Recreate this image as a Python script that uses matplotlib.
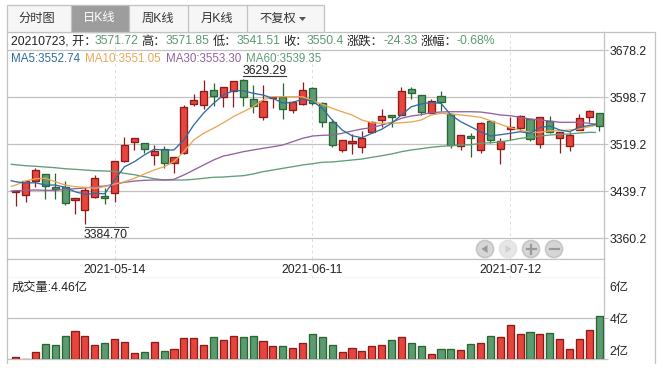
import numpy as np
import matplotlib
matplotlib.use('Agg')
import matplotlib.pyplot as plt
from matplotlib.patches import Rectangle, Circle, Polygon

plt.rcParams['font.family'] = ['Liberation Sans', 'Noto Sans CJK SC', 'DejaVu Sans']

W, H = 663, 372

opens = [3439.0, 3432.9, 3457.1, 3468.4, 3446.5, 3446.5, 3424.5, 3407.6, 3429.5, 3431.8,
         3436.3, 3490.4, 3522.6, 3520.9, 3501.6, 3510.7, 3487.0, 3504.0, 3587.9, 3586.2,
         3610.5, 3599.7, 3609.9, 3628.0, 3595.3, 3565.9, 3597.5, 3598.7, 3577.7, 3587.9,
         3613.9, 3589.1, 3556.4, 3509.0, 3520.9, 3515.1, 3540.5, 3559.8, 3568.2, 3569.3,
         3612.2, 3602.1, 3572.6, 3600.4, 3569.9, 3516.8, 3532.7, 3510.0, 3558.1, 3511.8,
         3545.6, 3547.3, 3561.5, 3519.2, 3559.1, 3530.3, 3515.8, 3543.9, 3564.9, 3571.72]
closes = [3440.2, 3456.6, 3475.2, 3448.2, 3443.1, 3419.4, 3427.9, 3441.4, 3461.7, 3428.9,
          3490.4, 3517.5, 3529.3, 3510.7, 3507.4, 3487.0, 3497.2, 3581.8, 3593.6, 3608.8,
          3601.4, 3615.6, 3625.8, 3598.7, 3584.5, 3591.9, 3599.7, 3579.4, 3591.3, 3610.5,
          3588.5, 3557.4, 3518.5, 3526.0, 3524.3, 3529.8, 3557.4, 3566.6, 3565.9, 3608.8,
          3606.5, 3574.3, 3591.9, 3590.2, 3518.5, 3534.4, 3530.3, 3554.7, 3527.0, 3524.8,
          3549.0, 3566.6, 3528.7, 3564.9, 3539.5, 3539.5, 3535.4, 3563.2, 3575.0, 3550.4]
highs = [3442.7, 3456.6, 3478.6, 3468.4, 3470.1, 3457.6, 3428.9, 3447.5, 3466.8, 3445.3,
         3490.4, 3531.0, 3529.8, 3520.9, 3517.5, 3516.3, 3497.7, 3585.7, 3604.3, 3628.0,
         3622.4, 3615.6, 3625.8, 3629.29, 3619.5, 3619.5, 3599.7, 3622.4, 3593.0, 3624.6,
         3615.6, 3591.3, 3561.5, 3526.0, 3536.6, 3541.7, 3558.6, 3578.4, 3568.8, 3615.6,
         3615.6, 3602.1, 3595.3, 3608.8, 3571.6, 3534.4, 3537.8, 3557.4, 3558.1, 3529.3,
         3564.9, 3568.2, 3561.5, 3565.9, 3566.6, 3540.5, 3539.5, 3570.4, 3577.2, 3571.85]
lows = [3415.3, 3422.1, 3446.5, 3426.2, 3426.2, 3416.0, 3400.8, 3384.7, 3427.9, 3417.7,
        3422.1, 3489.8, 3510.0, 3504.0, 3484.7, 3478.6, 3470.1, 3502.8, 3584.0, 3579.4,
        3584.0, 3582.8, 3581.8, 3584.5, 3571.6, 3560.3, 3581.1, 3562.5, 3572.6, 3585.7,
        3585.2, 3547.9, 3514.1, 3506.7, 3502.3, 3504.0, 3537.8, 3549.0, 3549.0, 3568.8,
        3595.3, 3568.8, 3572.1, 3575.0, 3513.5, 3510.0, 3496.9, 3504.0, 3520.9, 3485.4,
        3526.5, 3543.4, 3525.3, 3513.5, 3537.8, 3505.0, 3508.4, 3543.4, 3557.4, 3541.51]

# volume in 亿 as read against the right axis
volumes = [2.10, 2.01, 2.34, 2.73, 2.68, 3.12, 3.37, 3.12, 2.68, 2.78,
           2.98, 2.83, 2.29, 2.34, 2.83, 2.39, 2.49, 3.02, 3.02, 2.68,
           3.07, 2.93, 3.12, 3.07, 3.12, 2.88, 2.63, 2.63, 2.54, 2.78,
           3.22, 3.07, 2.68, 2.34, 2.54, 2.39, 2.63, 2.68, 2.93, 3.07,
           2.78, 2.63, 2.24, 2.49, 2.49, 2.44, 2.73, 2.78, 3.12, 3.07,
           3.66, 3.22, 3.32, 3.22, 3.27, 2.98, 2.49, 2.98, 3.41, 4.10]

# moving averages: first value is where the line starts, last is where it ends
ma5 = [3457.6, 3455.9, 3453.7, 3454.2, 3450.3, 3450.3, 3446.5, 3439.0, 3434.6, 3436.3,
       3435.6, 3458.8, 3481.3, 3489.8, 3501.1, 3510.7, 3509.6, 3509.6, 3526.5, 3551.8,
       3572.1, 3588.5, 3602.6, 3609.9, 3609.9, 3605.5, 3602.6, 3597.0, 3589.0, 3590.2,
       3595.3, 3592.4, 3580.1, 3560.3, 3543.4, 3533.7, 3530.3, 3537.8, 3544.6, 3554.7,
       3568.8, 3582.8, 3587.4, 3590.2, 3588.5, 3568.8, 3557.4, 3549.0, 3540.5, 3533.2,
       3535.4, 3537.8, 3540.5, 3537.8, 3547.3, 3550.2, 3543.4, 3540.5, 3548.0, 3551.3, 3552.74]
ma10 = [3448.2, 3450.3, 3457.1, 3461.0, 3461.7, 3455.9, 3450.3, 3447.5, 3446.5, 3444.8,
        3447.5, 3452.0, 3455.9, 3461.7, 3469.0, 3475.7, 3481.3, 3489.8, 3506.7, 3526.5,
        3537.8, 3546.3, 3555.7, 3565.9, 3574.3, 3582.8, 3594.1, 3599.7, 3599.7, 3599.7,
        3599.7, 3592.9, 3586.8, 3580.1, 3574.3, 3568.8, 3560.3, 3555.7, 3554.7, 3554.7,
        3555.7, 3556.9, 3560.3, 3568.8, 3571.6, 3570.4, 3568.8, 3567.1, 3564.9, 3559.1,
        3553.0, 3547.3, 3543.4, 3539.5, 3539.5, 3542.2, 3542.2, 3543.4, 3545.1, 3549.0, 3551.05]
ma30 = [3440.2, 3440.7, 3441.4, 3441.9, 3441.4, 3441.4, 3443.1, 3444.1, 3445.3, 3447.5,
        3448.7, 3451.5, 3454.9, 3457.1, 3458.3, 3458.8, 3458.8, 3460.0, 3467.3, 3475.7,
        3484.2, 3492.6, 3499.4, 3502.8, 3506.7, 3509.6, 3512.4, 3515.1, 3518.0, 3523.6,
        3529.3, 3533.2, 3534.4, 3534.9, 3537.8, 3541.7, 3545.1, 3547.3, 3551.8, 3556.4,
        3563.2, 3567.1, 3569.3, 3572.6, 3573.8, 3574.3, 3574.3, 3574.3, 3573.8, 3571.6,
        3568.8, 3567.6, 3564.9, 3562.0, 3560.3, 3558.6, 3556.4, 3556.4, 3556.4, 3554.7, 3553.30]
ma60 = [3485.4, 3484.7, 3483.0, 3482.0, 3480.8, 3479.6, 3477.9, 3476.9, 3475.7, 3474.5,
        3474.0, 3473.5, 3470.1, 3467.8, 3464.4, 3461.0, 3458.8, 3458.8, 3458.8, 3460.0,
        3461.7, 3463.4, 3463.9, 3465.1, 3466.1, 3469.0, 3472.9, 3475.7, 3478.6, 3481.3,
        3484.2, 3486.4, 3488.8, 3489.3, 3491.0, 3492.6, 3494.3, 3497.2, 3499.9, 3502.8,
        3506.7, 3509.6, 3511.8, 3514.1, 3515.8, 3516.8, 3518.0, 3518.5, 3520.9, 3521.9,
        3523.1, 3526.0, 3529.3, 3531.0, 3533.2, 3534.9, 3536.1, 3536.6, 3538.3, 3539.5, 3539.35]

price_ticks = [3360.2, 3439.7, 3519.2, 3598.7, 3678.2]
date_ticks = [10, 30, 50]
date_labels = ['2021-05-14', '2021-06-11', '2021-07-12']
tab_labels = ['分时图', '日K线', '周K线', '月K线', '不复权']

RED, RED_EDGE = '#e6453b', '#8e1a1c'
GREEN, GREEN_EDGE = '#5c9a72', '#28672f'
GRID = '#c2c2c2'
TEXT = '#222222'
C_MA5, C_MA10, C_MA30, C_MA60 = '#2f6c9f', '#e9a756', '#93629f', '#5f9c78'
FS = 8.8

opens = np.array(opens)
closes = np.array(closes)
highs = np.array(highs)
lows = np.array(lows)
volumes = np.array(volumes)
idx = np.arange(len(opens))
up = closes >= opens


def axes_px(left, top, right, bottom):
    return fig.add_axes([left / W, 1 - bottom / H, (right - left) / W, (bottom - top) / H])


fig = plt.figure(figsize=(W / 100, H / 100), dpi=100, facecolor='white')

xlim = (-0.91, 59.51)
ma_x = np.concatenate([[-0.45], np.arange(59), [58.6]])

# price panel
ax = axes_px(6.7, 31.5, 604.3, 259.3)
ax.set_xlim(xlim)
ax.set_ylim(3324.7, 3710.0)
ax.set_yticks(price_ticks)
ax.set_yticklabels([f'{v:.1f}' for v in price_ticks], fontsize=FS, color=TEXT)
ax.yaxis.tick_right()
ax.tick_params(axis='y', length=3, width=0.8, color=GRID, pad=1)
ax.set_xticks([])
ax.grid(axis='y', color=GRID, linewidth=0.9)
ax.set_axisbelow(True)
for x in date_ticks:
    ax.axvline(x, color='#dddddd', linewidth=0.7, linestyle=(0, (3, 3)), zorder=1)
for s in ax.spines.values():
    s.set_color(GRID)
    s.set_linewidth(0.9)

for mask, fill, edge in [(up, RED, RED_EDGE), (~up, GREEN, GREEN_EDGE)]:
    ax.vlines(idx[mask], lows[mask], highs[mask], color=edge, linewidth=0.9, zorder=2)
    body_low = np.minimum(opens, closes)[mask]
    body_h = np.abs(closes - opens)[mask]
    ax.bar(idx[mask], body_h, bottom=body_low, width=0.72, color=fill, edgecolor=edge,
           linewidth=0.95, zorder=3)

for vals, c in [(ma60, C_MA60), (ma30, C_MA30), (ma10, C_MA10), (ma5, C_MA5)]:
    ax.plot(ma_x, vals, color=c, linewidth=0.95, zorder=4)

# date strip
date_ax = axes_px(6.7, 259.3, 604.3, 278.3)
date_ax.set_xlim(xlim)
date_ax.set_ylim(0, 1)
date_ax.set_yticks([])
date_ax.set_xticks([])
for x, label in zip(date_ticks, date_labels):
    date_ax.axvline(x, color='#dddddd', linewidth=0.7, linestyle=(0, (3, 3)))
    date_ax.text(x, 0.45, label, ha='center', va='center', fontsize=FS, color=TEXT)
for s in date_ax.spines.values():
    s.set_color(GRID)
    s.set_linewidth(0.9)

# volume panel
vol_ax = axes_px(6.7, 278.3, 604.3, 359.3)
vol_ax.set_xlim(xlim)
vol_ax.set_ylim(2, 5.95)
vol_ax.set_xticks([])
vol_ax.set_yticks([2, 4])
vol_ax.set_yticklabels([])
vol_ax.yaxis.tick_right()
vol_ax.tick_params(axis='y', length=3, width=0.8, color=GRID)
vol_ax.grid(axis='y', color=GRID, linewidth=0.9)
vol_ax.set_axisbelow(True)
for name, s in vol_ax.spines.items():
    s.set_color(GRID)
    s.set_linewidth(0.9)
vol_ax.spines['top'].set_visible(False)
for mask, fill, edge in [(up, RED, RED_EDGE), (~up, GREEN, GREEN_EDGE)]:
    vol_ax.bar(idx[mask], volumes[mask] - 2, bottom=2, width=0.72, color=fill, edgecolor=edge,
               linewidth=0.95, zorder=3)

# page furniture drawn in pixel coordinates on a transparent overlay
ov = fig.add_axes([0, 0, 1, 1], facecolor='none')
ov.set_xlim(0, W)
ov.set_ylim(H, 0)
ov.axis('off')

ov.add_patch(Rectangle((6.7, 5), 316.8, 26.5, facecolor='#f6f6f6', edgecolor=GRID, linewidth=0.9))
ov.add_patch(Rectangle((70.7, 5), 58.3, 26.5, facecolor='#9d9d9d', edgecolor=GRID, linewidth=0.9))
for x in [188.3, 247.3]:
    ov.plot([x, x], [5, 31.5], color=GRID, linewidth=0.9)
tab_x = [36.5, 99, 157.5, 217, 278]
for i, (x, label) in enumerate(zip(tab_x, tab_labels)):
    ov.text(x, 18.5, label, ha='center', va='center', fontsize=FS,
            color='white' if i == 1 else '#333333')
ov.add_patch(Polygon([[299, 17], [306, 17], [302.5, 21]], facecolor='#555555', edgecolor='none'))
# left rule runs a little below the bars, outer frame closes at the far right
ov.plot([6.7, 6.7], [359.3, 363], color=GRID, linewidth=0.9)
ov.plot([604.3, 655.3, 655.3], [31.5, 31.5, 363], color=GRID, linewidth=0.9)


def row_text(x, y, s, color=TEXT, size=FS):
    ov.text(x, y, s, ha='left', va='center', fontsize=size, color=color)


info_y = 41.5
for x, s, c in [(11.3, '20210723, 开：', TEXT), (95, '3571.72', GREEN),
                (141.3, '高：', TEXT), (165.7, '3571.85', GREEN),
                (212.3, '低：', TEXT), (236.3, '3541.51', GREEN),
                (283.3, '收：', TEXT), (306.7, '3550.4', GREEN),
                (346.7, '涨跌：', TEXT), (383.3, '-24.33', GREEN),
                (420.7, '涨幅：', TEXT), (456.7, '-0.68%', GREEN)]:
    row_text(x, info_y, s, c)

for x, s, c in [(11.3, 'MA5:3552.74', C_MA5), (84.7, 'MA10:3551.05', C_MA10),
                (165.7, 'MA30:3553.30', C_MA30), (245.7, 'MA60:3539.35', C_MA60)]:
    row_text(x, 59.5, s, c, size=8.4)

row_text(11.3, 288.3, '成交量:4.46亿')
for y, s in [(288.3, '6亿'), (320, '4亿'), (352, '2亿')]:
    row_text(609.3, y, s)

# max and min markers
ov.text(264.5, 70.5, '3629.29', ha='center', va='center', fontsize=FS, color=TEXT)
ov.plot([243, 286], [76, 76], color='#333333', linewidth=0.8)
ov.text(106, 235, '3384.70', ha='center', va='center', fontsize=FS, color=TEXT)
ov.plot([85, 127.5], [227.3, 227.3], color='#555555', linewidth=0.8)

# zoom / pan buttons
for i, x in enumerate([485, 508, 531, 554]):
    light = i == 1
    ov.add_patch(Circle((x, 249), 8.5, facecolor='#e6e6e6' if light else '#d6d6d6',
                        edgecolor='#e2e2e2' if light else '#c6c6c6', linewidth=1.2))
glyph = '#9a9a9a'
ov.add_patch(Polygon([[481.5, 249], [487.5, 245], [487.5, 253]], facecolor=glyph, edgecolor='none'))
ov.add_patch(Polygon([[511.5, 249], [505.5, 245], [505.5, 253]], facecolor='#cfcfcf', edgecolor='none'))
ov.plot([526.5, 535.5], [249, 249], color=glyph, linewidth=1.6)
ov.plot([531, 531], [244.5, 253.5], color=glyph, linewidth=1.6)
ov.plot([549.5, 558.5], [249, 249], color=glyph, linewidth=1.6)

fig.savefig('out.png', dpi=100)
